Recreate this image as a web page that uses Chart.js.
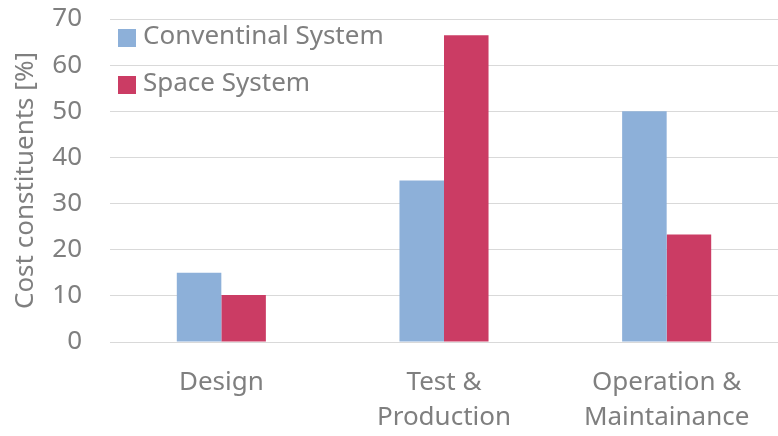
<!DOCTYPE html>
<html>
<head>
<meta charset="utf-8">
<script src="https://cdn.jsdelivr.net/npm/chart.js@4"></script>
<style>
  html, body { margin: 0; padding: 0; background: #fff; }
  #wrap { width: 778px; height: 436px; }
</style>
</head>
<body>
<div id="wrap"><canvas id="chart"></canvas></div>
<script>
const categories = [["Design"], ["Test &", "Production"], ["Operation &", "Maintainance"]];
const conventional = [15, 35, 50];
const space = [10.2, 66.5, 23.3];
const seriesNames = ["Conventinal System", "Space System"];
const yTicks = [0, 10, 20, 30, 40, 50, 60, 70];

const FONT = "'Noto Sans', sans-serif";
const GREY = "#7f7f7f";

// legend drawn inside the plot area, top-left
const insideLegend = {
  id: "insideLegend",
  afterDraw(chart) {
    const ctx = chart.ctx;
    const left = chart.chartArea.left;
    ctx.save();
    ctx.font = "26px " + FONT;
    ctx.textBaseline = "middle";
    chart.data.datasets.forEach((ds, i) => {
      const y = 37 + i * 47;
      ctx.fillStyle = ds.backgroundColor;
      ctx.fillRect(left + 8, y - 8, 18, 18);
      ctx.fillStyle = GREY;
      ctx.fillText(ds.label, left + 33, y);
    });
    ctx.restore();
  }
};

new Chart(document.getElementById("chart"), {
  type: "bar",
  data: {
    labels: categories,
    datasets: [
      { label: seriesNames[0], data: conventional, backgroundColor: "#8db0d9" },
      { label: seriesNames[1], data: space, backgroundColor: "#cb3c64" }
    ]
  },
  options: {
    responsive: true,
    maintainAspectRatio: false,
    animation: false,
    layout: { padding: { top: 19, right: -6, left: 0, bottom: 0 } },
    datasets: { bar: { categoryPercentage: 0.4, barPercentage: 1 } },
    plugins: { legend: { display: false }, tooltip: { enabled: false } },
    scales: {
      x: {
        grid: { display: false },
        border: { display: false },
        ticks: { color: GREY, font: { family: FONT, size: 26, lineHeight: 1.35 }, padding: 15, maxRotation: 0 },
        afterFit: axis => { axis.height = 94; axis.paddingLeft = 0; axis.paddingRight = 0; }
      },
      y: {
        min: 0,
        max: 70,
        afterBuildTicks: axis => { axis.ticks = yTicks.map(v => ({ value: v })); },
        grid: { color: "#d9d9d9", drawTicks: false },
        border: { display: false },
        ticks: { color: GREY, font: { family: FONT, size: 26 }, padding: 28 },
        title: { display: true, text: "Cost constituents [%]", color: GREY, font: { family: FONT, size: 26 }, padding: { top: 10, bottom: 0 } },
        afterFit: axis => { axis.width = 110; axis.paddingTop = 0; axis.paddingBottom = 0; }
      }
    }
  },
  plugins: [insideLegend]
});
</script>
</body>
</html>
